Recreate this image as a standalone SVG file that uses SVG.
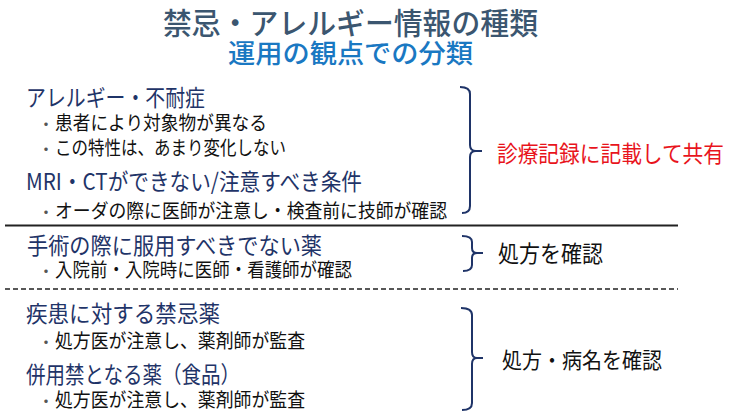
<svg xmlns="http://www.w3.org/2000/svg" width="730" height="418" viewBox="0 0 730 418">
<style>
text{font-family:"Noto Sans CJK JP","Noto Sans",sans-serif;}
.title{font-size:29.5px;fill:#3b5670;font-weight:500}
.sub{font-size:26.5px;fill:#1a78c2;font-weight:500}
.head{font-size:23px;fill:#1f3468}
.item{font-size:19.5px;fill:#111}
.dot{font-size:16px;fill:#555;text-anchor:middle}
.note{font-size:23px;fill:#111}
.red{fill:#e8141c}
.brace{fill:none;stroke:#1f3468;stroke-width:2}
.rule{stroke:#222;stroke-width:2}
.dash{stroke:#222;stroke-width:1.5;stroke-dasharray:5 3}
</style>
<rect width="730" height="418" fill="#fff"/>
<g id="title">
<text class="title" x="163" y="34" textLength="375" lengthAdjust="spacingAndGlyphs">禁忌・アレルギー情報の種類</text>
<text class="sub" x="228" y="63" textLength="245" lengthAdjust="spacingAndGlyphs">運用の観点での分類</text>
</g>
<g id="group-allergy">
<text class="head" x="26" y="106" textLength="179" lengthAdjust="spacingAndGlyphs">アレルギー・不耐症</text>
<text class="dot" x="46" y="129.5">・</text>
<text class="item" x="55" y="129.9" textLength="212" lengthAdjust="spacingAndGlyphs">患者により対象物が異なる</text>
<text class="dot" x="46" y="154.5">・</text>
<text class="item" x="55" y="154.9" textLength="231" lengthAdjust="spacingAndGlyphs">この特性は、あまり変化しない</text>
<text class="head" x="26" y="189.7" textLength="336" lengthAdjust="spacingAndGlyphs">MRI・CTができない/注意すべき条件</text>
<text class="dot" x="46" y="217.5">・</text>
<text class="item" x="55" y="217.9" textLength="392" lengthAdjust="spacingAndGlyphs">オーダの際に医師が注意し・検査前に技師が確認</text>
</g>
<g id="note-record">
<text class="note red" transform="scale(0.9,1)" x="552.2" y="161.7">診療記録に記載して共有</text>
</g>
<g id="group-surgery">
<text class="head" x="27" y="253.7" textLength="295" lengthAdjust="spacingAndGlyphs">手術の際に服用すべきでない薬</text>
<text class="dot" x="46" y="276.5">・</text>
<text class="item" x="55" y="276.9" textLength="297" lengthAdjust="spacingAndGlyphs">入院前・入院時に医師・看護師が確認</text>
</g>
<g id="note-prescription">
<text class="note" x="498" y="261.7" textLength="105" lengthAdjust="spacingAndGlyphs">処方を確認</text>
</g>
<g id="group-contra">
<text class="head" x="26" y="322.2" textLength="194" lengthAdjust="spacingAndGlyphs">疾患に対する禁忌薬</text>
<text class="dot" x="46" y="347.5">・</text>
<text class="item" x="55" y="347.9" textLength="250" lengthAdjust="spacingAndGlyphs">処方医が注意し、薬剤師が監査</text>
<text class="head" x="26" y="382.7" textLength="214" lengthAdjust="spacingAndGlyphs">併用禁となる薬（食品）</text>
<text class="dot" x="46" y="406.5">・</text>
<text class="item" x="55" y="406.9" textLength="250" lengthAdjust="spacingAndGlyphs">処方医が注意し、薬剤師が監査</text>
</g>
<g id="note-disease">
<text class="note" x="502" y="368.4" textLength="160" lengthAdjust="spacingAndGlyphs" style="font-size:22px">処方・病名を確認</text>
</g>
<g id="connectors">
<path class="brace" d="M460,87 Q470,87 470,94 V145 Q470,151 476,151 H482 M476,151 Q470,151 470,157 V206 Q470,213 462,213"/>
<path class="brace" d="M462,236 Q472,236 472,242 V248 Q472,253 477,253 H483 M477,253 Q472,253 472,258 V265 Q472,271 463,271"/>
<path class="brace" d="M461,308 Q472,308 472,315 V352 Q472,358 477,358 H483 M477,358 Q472,358 472,364 V403 Q472,410 462,410"/>
<line class="rule" x1="5" y1="225.5" x2="678" y2="225.5"/>
<line class="dash" x1="5" y1="289" x2="678" y2="289"/>
</g>
</svg>
